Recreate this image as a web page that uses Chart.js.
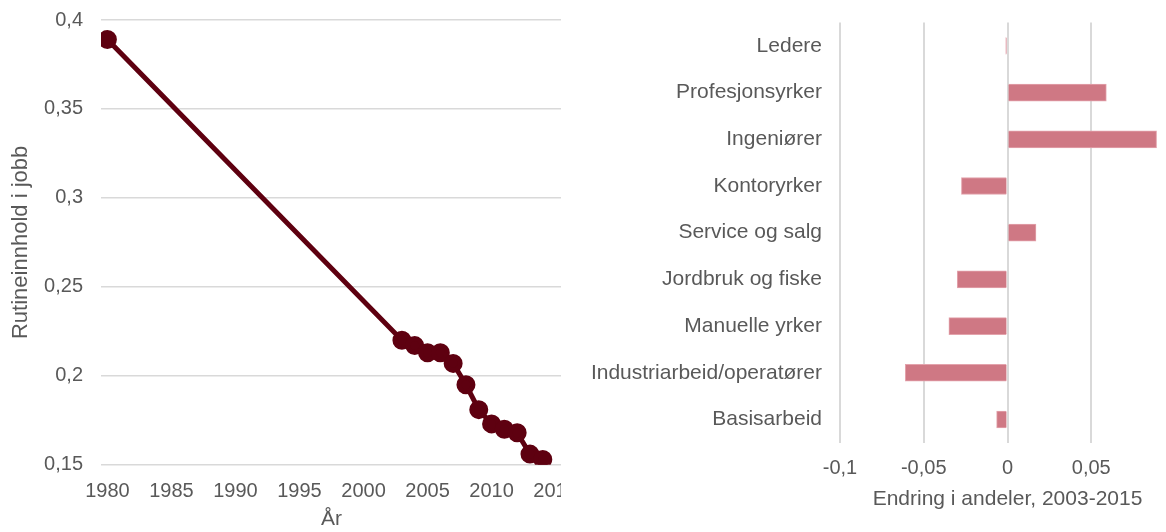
<!DOCTYPE html>
<html>
<head>
<meta charset="utf-8">
<script src="https://cdn.jsdelivr.net/npm/chart.js@4/dist/chart.umd.min.js"></script>
<style>
    html, body { margin: 0; padding: 0; background: #fff; overflow: hidden; width: 1166px; height: 532px; }
    .venstre { position: absolute; left: 0; top: 0; width: 561px; height: 532px; overflow: hidden; }
    .venstre canvas { position: absolute; left: 0; top: 0; }
    .hoyre { position: absolute; left: 570px; top: 0; width: 640px; height: 532px; }
</style>
</head>
<body>
<div class="venstre"><canvas id="rutineChart" width="585" height="532" style="width:585px;height:532px"></canvas></div>
<div class="hoyre"><canvas id="endringChart" width="619" height="532" style="width:619px;height:532px"></canvas></div>
<script>
// Data - venstre figur
const aar = [1980, 2003, 2004, 2005, 2006, 2007, 2008, 2009, 2010, 2011, 2012, 2013, 2014];
const rutineinnhold = [0.389, 0.220, 0.217, 0.213, 0.213, 0.207, 0.195, 0.181, 0.173, 0.170, 0.168, 0.156, 0.153];
const aarTicks = [1980, 1985, 1990, 1995, 2000, 2005, 2010, 2015];

// Data - høyre figur
const yrker = ['Ledere', 'Profesjonsyrker', 'Ingeniører', 'Kontoryrker', 'Service og salg',
    'Jordbruk og fiske', 'Manuelle yrker', 'Industriarbeid/operatører', 'Basisarbeid'];
const endring = [-0.001, 0.059, 0.089, -0.0275, 0.017, -0.030, -0.035, -0.061, -0.0065];

const tekstFarge = '#595959';
const gridFarge = '#D9D9D9';
const tallFont = { family: "'Liberation Sans', Arial, sans-serif", size: 20 };
const tekstFont = { family: "'Liberation Sans', Arial, sans-serif", size: 21 };

// format med komma
function komma(v) {
    return String(+Number(v).toFixed(3)).replace('.', ',');
}

new Chart(document.getElementById('rutineChart'), {
    type: 'line',
    data: {
        datasets: [{
            data: aar.map((a, i) => ({ x: a, y: rutineinnhold[i] })),
            borderColor: '#5E0010',
            backgroundColor: '#5E0010',
            borderWidth: 5,
            pointRadius: 7,
            pointHoverRadius: 7,
            tension: 0
        }]
    },
    options: {
        responsive: false,
        animation: false,
        layout: { padding: { top: 20, left: 0, right: 0, bottom: 0 } },
        plugins: { legend: { display: false }, tooltip: { enabled: false } },
        scales: {
            x: {
                type: 'linear',
                min: 1979.5,
                max: 2015.5,
                afterBuildTicks: function (scale) {
                    scale.ticks = aarTicks.map(v => ({ value: v }));
                },
                grid: { display: false },
                border: { display: false },
                ticks: { color: tekstFarge, font: tallFont, padding: 7, maxRotation: 0, autoSkip: false,
                    callback: v => String(v) },
                title: { display: true, text: 'År', color: tekstFarge, font: tekstFont, padding: { top: -4, bottom: 0 } }
            },
            y: {
                min: 0.15,
                max: 0.4,
                afterFit: function (scale) {
                    scale.width = 101;
                    scale.paddingTop = 0;
                    scale.paddingBottom = 0;
                },
                ticks: { stepSize: 0.05, color: tekstFarge, font: tallFont, padding: 18, callback: komma },
                grid: { color: gridFarge, lineWidth: 1.5, drawTicks: false },
                border: { display: false },
                title: { display: true, text: 'Rutineinnhold i jobb', color: tekstFarge,
                    font: { family: tekstFont.family, size: 22 }, padding: { top: 8, bottom: 0 } }
            }
        }
    }
});

new Chart(document.getElementById('endringChart'), {
    type: 'bar',
    data: {
        labels: yrker,
        datasets: [{
            data: endring,
            backgroundColor: '#CF7884',
            borderColor: '#E3A3AC',
            borderWidth: 1,
            barThickness: 17
        }]
    },
    options: {
        indexAxis: 'y',
        responsive: false,
        animation: false,
        layout: { padding: { top: 6, left: 0, right: 0, bottom: 20 } },
        plugins: { legend: { display: false }, tooltip: { enabled: false } },
        scales: {
            x: {
                min: -0.1,
                max: 0.1,
                ticks: { stepSize: 0.05, color: tekstFarge, font: tallFont, padding: 14,
                    callback: v => (v > 0.09 ? '' : komma(v)) },
                grid: { color: gridFarge, lineWidth: 2, drawTicks: false },
                border: { display: false },
                title: { display: true, text: 'Endring i andeler, 2003-2015', color: tekstFarge, font: tekstFont, padding: { top: -8, bottom: 0 } }
            },
            y: {
                afterFit: function (scale) { scale.width = 270; },
                ticks: { color: tekstFarge, font: tekstFont, padding: 10 },
                grid: { display: false },
                border: { display: false }
            }
        }
    }
});
</script>
</body>
</html>
